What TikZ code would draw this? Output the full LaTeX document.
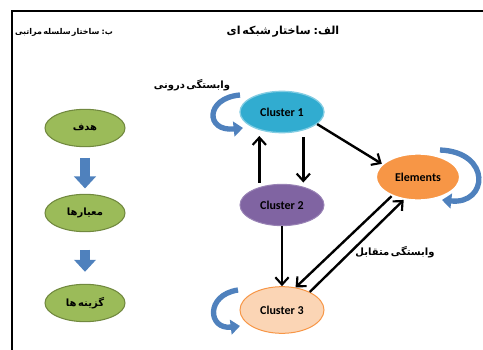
\documentclass[tikz,border=0pt]{standalone}
\usepackage{fontspec}
\setmainfont{Carlito}
\newfontfamily\persianfont[Script=Arabic,WordSpace=0.45]{DejaVu Sans}
\TeXXeTstate=1
\usetikzlibrary{arrows.meta,shapes.geometric}

\definecolor{teal1}{RGB}{49,172,208}
\definecolor{purple1}{RGB}{128,100,162}
\definecolor{peach1}{RGB}{251,213,181}
\definecolor{orange1}{RGB}{247,150,70}
\definecolor{green1}{RGB}{155,187,89}
\definecolor{green2}{RGB}{113,137,63}
\definecolor{blue1}{RGB}{79,129,189}

\tikzset{every picture/.style={line width=0.75pt}}
\tikzset{
  cluster/.style={ellipse, minimum width=63pt, minimum height=31pt, inner sep=0pt, font=\bfseries\fontsize{9}{10}\selectfont},
  level/.style={ellipse, minimum width=60pt, minimum height=28pt, inner sep=0pt, draw=green2, fill=green1, line width=0.8pt},
  fatext/.style={font=\persianfont\bfseries\fontsize{7.5}{9}\selectfont},
  conn/.style={line width=1.8pt, -{Straight Barb[length=5.5pt,width=10pt,line width=1.6pt]}},
  blockar/.style={draw=blue1!80!black, line width=7pt, blue1, -{Triangle[length=9pt,width=16pt]}},
  loopar/.style={draw=blue1, line width=4pt, -{Triangle[length=7pt,width=11pt]}}
}

\begin{document}
\begin{tikzpicture}[x=0.75pt,y=0.75pt,yscale=-1,xscale=1]
	\useasboundingbox (0,0) rectangle (483,350);

	%Frame
	\draw [line width=1.6pt] (12,350) -- (12,11) -- (483,11) ;

	% Titles
	\node [fatext, font=\persianfont\bfseries\fontsize{8.3}{10}\selectfont] (titnet) at (283,32) {\beginR الف: ساختار شبکه ای\endR};
	\node [fatext, font=\persianfont\bfseries\fontsize{6}{8}\selectfont] (tithier) at (64,32) {\beginR ب: ساختار سلسله مراتبی\endR};

	%Network side
	\node [cluster, draw=teal1!60!white, fill=teal1, line width=1pt] (c1) at (282,112) {Cluster 1};
	\node [cluster, draw=purple1!80!white, fill=purple1] (c2) at (282,205) {Cluster 2};
	\node [cluster, draw=orange1, fill=peach1, minimum height=35pt] (c3) at (282,310) {Cluster 3};
	\node [cluster, draw=white, fill=orange1, line width=1.5pt, minimum height=35pt] (el) at (418,177) {Elements};

	% Text Node
	\node [fatext] (inlab) at (192,85) {\beginR وابستگی درونی\endR};
	% Text Node
	\node [fatext] (mutlab) at (395,252) {\beginR وابستگی متقابل\endR};

	%Connectors
	\draw [conn, shorten <=1pt, shorten >=2pt] ([xshift=-17pt]c2.north) -- ([xshift=-17pt]c1.south) ;
	\draw [conn, shorten <=3pt, shorten >=1pt] ([xshift=16pt]c1.south) -- ([xshift=16pt]c2.north) ;
	\draw [conn] (c1.-19) -- (el.160) ;
	\draw [conn] (c2.south) -- (c3.north) ;
	\draw [conn] (el.216) -- (c3.59) ;
	\draw [conn] (c3.33) -- (el.238) ;

	%Self loops
	\draw [loopar] (240,95) .. controls (205,98) and (205,132) .. (243,128) ;
	\draw [loopar] (440,150) .. controls (492,152) and (488,205) .. (442,200) ;
	\draw [loopar] (238,290) .. controls (205,295) and (208,330) .. (240,326) ;

	%Hierarchy side
	\node [level] (goal) at (85,128) {\persianfont\bfseries\fontsize{7.5}{9}\selectfont\beginR هدف\endR};
	\node [level] (crit) at (85,213) {\persianfont\bfseries\fontsize{7.5}{9}\selectfont\beginR معیارها\endR};
	\node [level] (alt) at (85,303) {\persianfont\bfseries\fontsize{7.5}{9}\selectfont\beginR گزینه ها\endR};

	\draw [blockar, shorten <=8pt, shorten >=4pt] (goal) -- (crit) ;
	\draw [blockar, shorten <=13pt, shorten >=9pt] (crit) -- (alt) ;

\end{tikzpicture}
\end{document}
